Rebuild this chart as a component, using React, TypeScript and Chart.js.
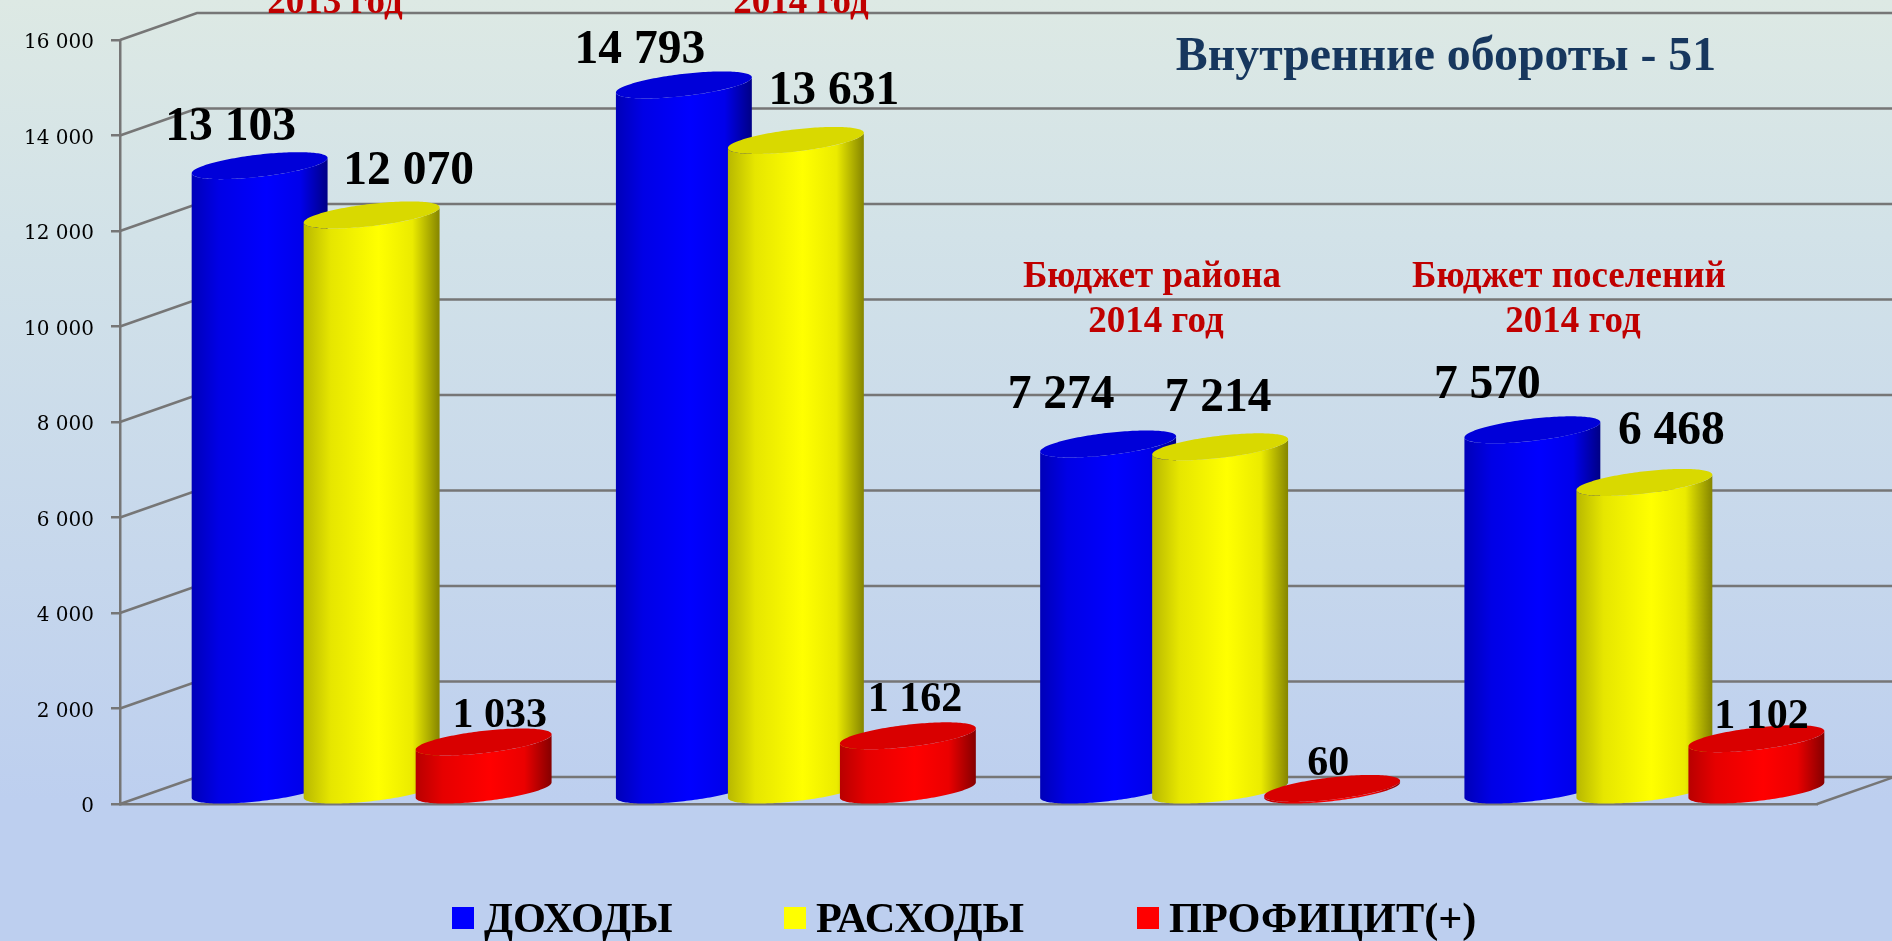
import React, { useEffect, useRef } from "react";
import { Chart, registerables, BarController, BarElement } from "chart.js";

const categories = ["2013 год", "2014 год", "Бюджет района 2014 год", "Бюджет поселений 2014 год"];
const incomeValues = [13103, 14793, 7274, 7570];
const expenseValues = [12070, 13631, 7214, 6468];
const surplusValues = [1033, 1162, 60, 1102];
const seriesNames = ["ДОХОДЫ", "РАСХОДЫ", "ПРОФИЦИТ(+)"];
const yTicks = [0, 2000, 4000, 6000, 8000, 10000, 12000, 14000, 16000];
const chartTitle = "Внутренние обороты - 51";

const DEPTH_X = 77;
const DEPTH_Y = 27;
const SERIF = "'Liberation Serif'";
const GRID = "#767676";

const fmt = (v: number) => String(v).replace(/\B(?=(\d{3})+$)/g, " ");

const shade = (rgb: number[], k: number) => `rgb(${rgb.map((c) => Math.round(c * k)).join(",")})`;
const parseRgb = (c: string) => {
  const m = c.match(/\d+/g) || ["0", "0", "0"];
  return m.slice(0, 3).map(Number);
};

class CylinderBar extends BarElement {
  static id = "cylinderBar";
  draw(ctx: CanvasRenderingContext2D) {
    const { x, y, base, width } = (this as any).getProps(["x", "y", "base", "width"], true);
    const rgb = parseRgb((this as any).options.backgroundColor);
    const cx = x + DEPTH_X / 2 + 1;
    const top = y - DEPTH_Y / 2 + 0.8;
    const bottom = base - DEPTH_Y / 2 + 0.8;
    const a = width / 2;
    const b = DEPTH_X / 2;
    const c = DEPTH_Y / 2;
    const pt = (t: number, cy: number): [number, number] => [
      cx + a * Math.cos(t) + b * Math.sin(t),
      cy - c * Math.sin(t),
    ];
    const t0 = Math.atan2(b, a);
    const halfW = Math.hypot(a, b);
    const N = 80;

    const grad = ctx.createLinearGradient(cx - halfW, 0, cx + halfW, 0);
    grad.addColorStop(0, shade(rgb, 0.72));
    grad.addColorStop(0.2, shade(rgb, 0.9));
    grad.addColorStop(0.55, shade(rgb, 1));
    grad.addColorStop(0.8, shade(rgb, 0.92));
    grad.addColorStop(1, shade(rgb, 0.52));

    ctx.save();
    ctx.beginPath();
    for (let i = 0; i <= N; i++) {
      const t = t0 - (Math.PI * i) / N;
      const [px, py] = pt(t, bottom);
      if (i === 0) ctx.moveTo(px, py);
      else ctx.lineTo(px, py);
    }
    for (let i = 0; i <= N; i++) {
      const t = t0 - Math.PI + (Math.PI * i) / N;
      const [px, py] = pt(t, top);
      ctx.lineTo(px, py);
    }
    ctx.closePath();
    ctx.fillStyle = grad;
    ctx.fill();

    ctx.beginPath();
    for (let i = 0; i <= 2 * N; i++) {
      const [px, py] = pt((Math.PI * i) / N, top);
      if (i === 0) ctx.moveTo(px, py);
      else ctx.lineTo(px, py);
    }
    ctx.closePath();
    ctx.fillStyle = shade(rgb, 0.85);
    ctx.fill();
    ctx.restore();
  }
}

class CylinderController extends BarController {
  static id = "cylinder";
  static defaults = { ...(BarController as any).defaults, dataElementType: "cylinderBar" };
  draw() {}
}

Chart.register(...registerables, CylinderBar as any, CylinderController as any);

// label placement relative to the top of each cylinder: [dx, dy] per series, per category
const labelNudges = [
  [[-28, -37], [-43, -33], [-46, -47], [-44, -43]],
  [[38, -42], [39, -48], [-1, -47], [28, -50]],
  [[17, -25], [8, -35], [-3, -23], [6, -21]],
];

const wallsPlugin = {
  id: "walls",
  beforeDatasetsDraw(chart: any) {
    const { ctx, chartArea, scales } = chart;
    ctx.save();
    ctx.strokeStyle = GRID;
    ctx.lineWidth = 2.5;
    yTicks.forEach((v) => {
      const py = scales.y.getPixelForValue(v);
      ctx.beginPath();
      ctx.moveTo(chartArea.left, py);
      ctx.lineTo(chartArea.left + DEPTH_X, py - DEPTH_Y);
      ctx.lineTo(chartArea.right + DEPTH_X, py - DEPTH_Y);
      ctx.stroke();
    });
    ctx.beginPath();
    ctx.moveTo(chartArea.right, chartArea.bottom);
    ctx.lineTo(chartArea.right + DEPTH_X, chartArea.bottom - DEPTH_Y);
    ctx.stroke();
    ctx.restore();
  },
};

const textPlugin = {
  id: "texts",
  afterDatasetsDraw(chart: any) {
    const { ctx } = chart;
    // cylinders in dataset order, so that each one overlaps the previous one
    chart.data.datasets.forEach((_: any, i: number) => {
      chart.getDatasetMeta(i).data.forEach((el: any) => el.draw(ctx));
    });

    ctx.save();
    ctx.textBaseline = "middle";
    ctx.textAlign = "center";
    ctx.fillStyle = "#000";
    chart.data.datasets.forEach((ds: any, i: number) => {
      ctx.font = `bold ${i === 2 ? 42 : 47.5}px ${SERIF}`;
      chart.getDatasetMeta(i).data.forEach((el: any, j: number) => {
        const [dx, dy] = labelNudges[i][j];
        ctx.fillText(fmt(ds.data[j]), el.x + DEPTH_X / 2 + dx, el.y - DEPTH_Y / 2 + dy);
      });
    });

    // chart title
    ctx.font = `bold 47.8px ${SERIF}`;
    ctx.fillStyle = "#17375e";
    ctx.fillText(chartTitle, 1446, 58);

    // group captions
    ctx.font = `bold 37px ${SERIF}`;
    ctx.fillStyle = "#c00000";
    ctx.textBaseline = "alphabetic";
    ctx.fillText("2013 год", 335, 13);
    ctx.fillText("2014 год", 801, 13);
    ctx.fillText("Бюджет района", 1152, 287);
    ctx.fillText("2014 год", 1156, 332);
    ctx.fillText("Бюджет поселений", 1569, 287);
    ctx.fillText("2014 год", 1573, 332);

    // legend
    ctx.textAlign = "left";
    ctx.textBaseline = "alphabetic";
    ctx.font = `bold 42.3px ${SERIF}`;
    const legendX = [452, 784, 1137];
    chart.data.datasets.forEach((ds: any, i: number) => {
      ctx.fillStyle = ds.backgroundColor;
      ctx.fillRect(legendX[i], 907, 22, 22);
      ctx.fillStyle = "#000";
      ctx.fillText(ds.label, legendX[i] + 32, 932);
    });
    ctx.restore();
  },
};

export default function App() {
  const ref = useRef<HTMLCanvasElement>(null);
  useEffect(() => {
    const chart = new Chart(ref.current as HTMLCanvasElement, {
      type: "cylinder" as any,
      data: {
        labels: categories,
        datasets: [
          { label: seriesNames[0], data: incomeValues, backgroundColor: "rgb(0,0,255)" },
          { label: seriesNames[1], data: expenseValues, backgroundColor: "rgb(255,255,0)" },
          { label: seriesNames[2], data: surplusValues, backgroundColor: "rgb(255,0,0)" },
        ],
      },
      options: {
        responsive: false,
        animation: false,
        events: [],
        layout: { padding: { top: 40, bottom: 137, right: 75, left: 0 } },
        datasets: { cylinder: { categoryPercentage: 0.792, barPercentage: 1 } } as any,
        plugins: { legend: { display: false }, tooltip: { enabled: false }, title: { display: false } },
        scales: {
          x: {
            type: "category",
            grid: { display: false },
            border: { display: true, color: GRID, width: 2.5 },
            ticks: { display: false },
            afterFit: (s: any) => { s.height = 0; },
          },
          y: {
            type: "linear",
            min: 0,
            max: 16000,
            afterFit: (s: any) => { s.width = 120; },
            afterBuildTicks: (s: any) => { s.ticks = yTicks.map((value) => ({ value })); },
            grid: { drawOnChartArea: false, color: GRID, lineWidth: 2.5, tickLength: 9 },
            border: { display: true, color: GRID, width: 2.5 },
            ticks: {
              padding: 17,
              color: "#000",
              labelOffset: 3,
              font: { family: "'DejaVu Serif'", size: 20 },
              callback: (v: any) => fmt(Number(v)),
            },
          },
        },
      } as any,
      plugins: [wallsPlugin, textPlugin] as any,
    });
    return () => chart.destroy();
  }, []);
  return (
    <div
      style={{
        position: "fixed",
        inset: 0,
        overflow: "hidden",
        background: "linear-gradient(180deg, #dde9e4 0%, #d2e2e8 25%, #c6d7ec 60%, #bdcfef 85%, #bdcfef 100%)",
      }}
    >
      <canvas ref={ref} width={1892} height={941} style={{ display: "block", width: 1892, height: 941 }} />
    </div>
  );
}
